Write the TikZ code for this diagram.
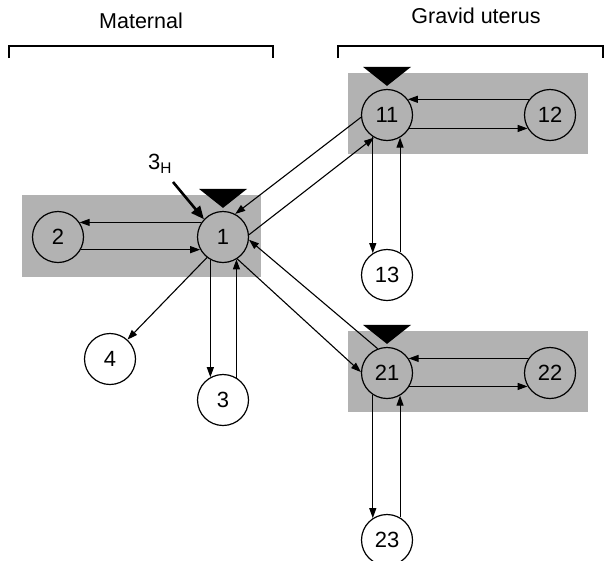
\documentclass[tikz,border=0pt]{standalone}
\usepackage{fontspec}
\setmainfont{Liberation Sans}
\usetikzlibrary{arrows.meta}

\tikzset{
  comp/.style={circle, draw, line width=1.2pt, minimum size=51pt, inner sep=0pt,
    font=\fontsize{22}{26}\selectfont},
  flow/.style={line width=1.1pt, -{Triangle[length=10pt,width=7pt]}},
  tracer/.style={line width=2.6pt, -{Triangle[length=13pt,width=11pt]}},
  boxgray/.style={fill=black!30},
  bracket/.style={line width=1.2pt},
  grouplabel/.style={anchor=base, font=\fontsize{21.5}{25}\selectfont}
}

\begin{document}
\begin{tikzpicture}[x=1pt, y=-1pt]
  \useasboundingbox (0,0) rectangle (610,560);

  % shaded pools
  \fill[boxgray] (22,195) rectangle (261,277);
  \fill[boxgray] (348,73) rectangle (588,154);
  \fill[boxgray] (348,331) rectangle (588,412);

  % group brackets
  \draw[bracket] (9,58) -- (9,46) -- (273,46) -- (273,58);
  \draw[bracket] (338,58) -- (338,46) -- (603,46) -- (603,58);
  \node[grouplabel] (mat) at (141,28) {Maternal};
  \node[grouplabel] (grav) at (476,23) {Gravid uterus};

  \node[comp] (n1) at (223,237) {1};
  \node[comp] (n2) at (58,237) {2};
  \node[comp] (n3) at (223,400) {3};
  \node[comp] (n4) at (110,359) {4};
  \node[comp] (n11) at (387,115) {11};
  \node[comp] (n12) at (550,115) {12};
  \node[comp] (n13) at (387,275) {13};
  \node[comp] (n21) at (387,373) {21};
  \node[comp] (n22) at (550,373) {22};
  \node[comp] (n23) at (387,540) {23};

  % sampling sites
  \foreach \n in {n1,n11,n21}
    \fill ([yshift=3pt]\n.north) -- ++(-24,-19) -- ++(48,0) -- cycle;

  \draw[flow] (n1.146) -- (n2.34);
  \draw[flow] (n2.-29) -- (n1.209);
  \draw[flow] (n1.241) -- (n3.119);
  \draw[flow] (n3.59) -- (n1.301);
  \draw[flow] (n1.232) -- (n4.48);

  \draw[flow] (n12.143) -- (n11.37);
  \draw[flow] (n11.-31) -- (n12.211);
  \draw[flow] (n11.237) -- (n13.123);
  \draw[flow] (n13.60) -- (n11.300);

  \draw[flow] (n22.146) -- (n21.34);
  \draw[flow] (n21.-31) -- (n22.211);
  \draw[flow] (n21.237) -- (n23.123);
  \draw[flow] (n23.60) -- (n21.300);

  \draw[flow] (n11.185) -- (n1.62);
  \draw[flow] (n1.5) -- (n11.240);
  \draw[flow] (n21.111) -- (n1.354);
  \draw[flow] (n1.303) -- (n21.178);

  % tracer input
  \node[font=\fontsize{22}{26}\selectfont] (h3) at (160,164) {3\textsubscript{H}};
  \coordinate (h3tail) at (173,182);
  \draw[tracer] (h3tail) -- (n1.137);
\end{tikzpicture}
\end{document}
